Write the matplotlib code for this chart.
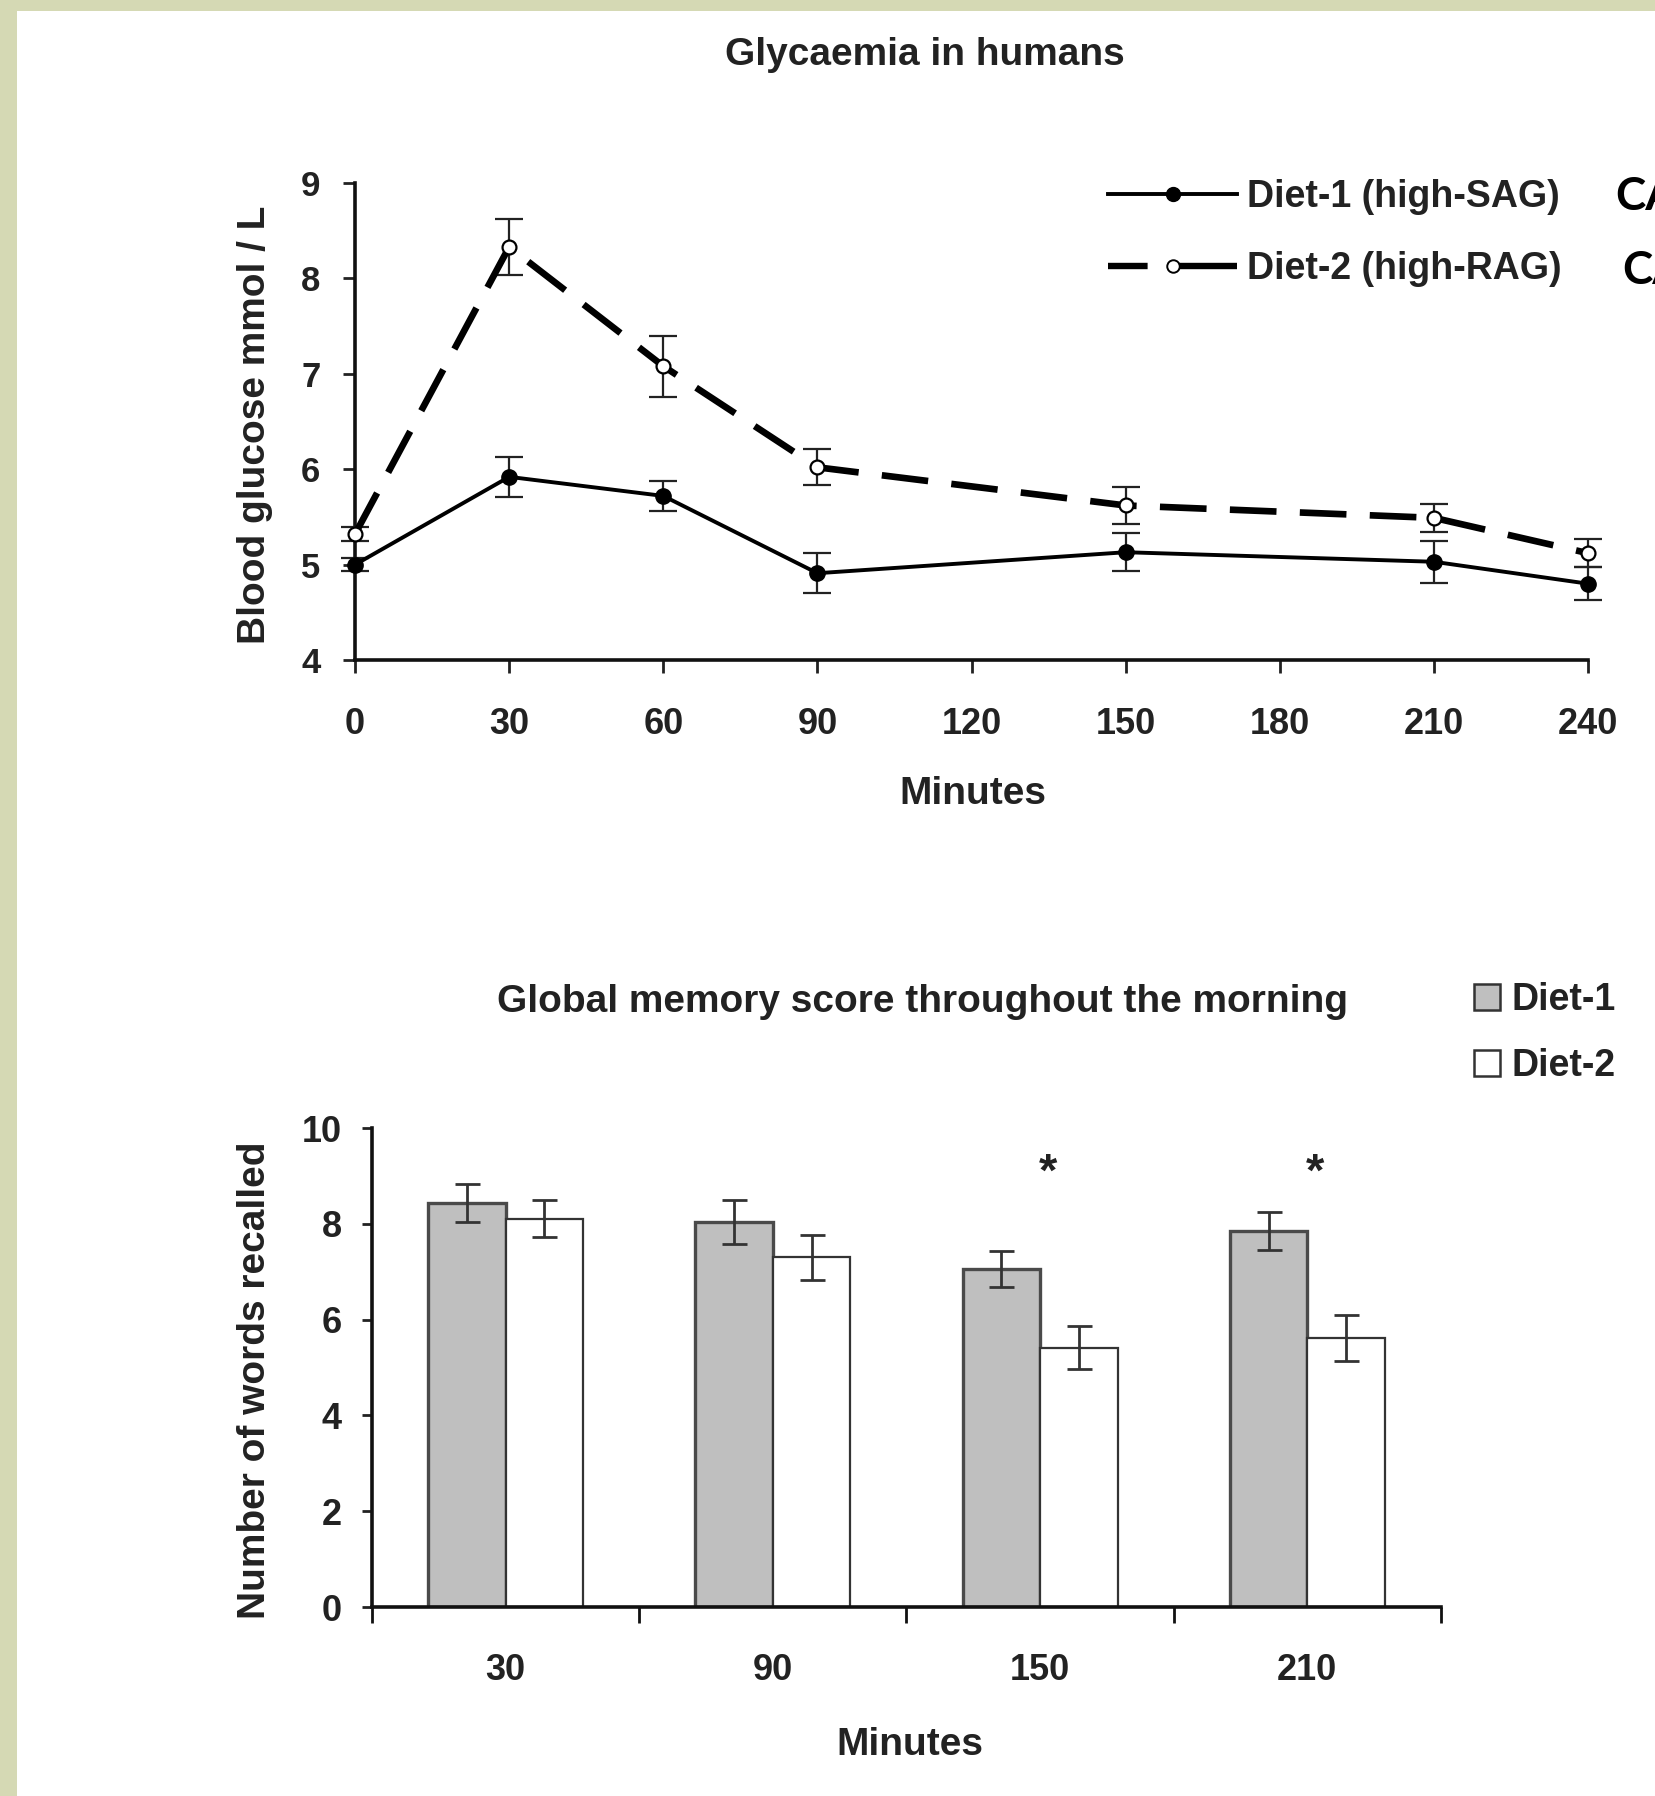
import matplotlib
matplotlib.use("Agg")
import matplotlib.pyplot as plt
import numpy as np
from matplotlib.lines import Line2D
from matplotlib.patches import Rectangle, Patch

plt.rcParams['font.family'] = ['Liberation Sans', 'DejaVu Sans']
plt.rcParams['font.weight'] = 'bold'
plt.rcParams['axes.labelweight'] = 'bold'

TXT = '#222222'

# glycaemia (top panel)
minutes = [0, 30, 60, 90, 150, 210, 240]
diet1_glucose = [5.0, 5.92, 5.72, 4.91, 5.13, 5.03, 4.8]
diet1_err = [0.07, 0.21, 0.16, 0.21, 0.2, 0.22, 0.17]
diet2_glucose = [5.32, 8.33, 7.08, 6.02, 5.62, 5.49, 5.12]
diet2_err = [0.07, 0.29, 0.32, 0.19, 0.19, 0.15, 0.15]
glucose_ticks = [4, 5, 6, 7, 8, 9]
minute_ticks = [0, 30, 60, 90, 120, 150, 180, 210, 240]

# memory score (bottom panel)
memory_minutes = ['30', '90', '150', '210']
diet1_words = [8.44, 8.04, 7.06, 7.85]
diet1_words_err = [0.4, 0.45, 0.38, 0.4]
diet2_words = [8.11, 7.3, 5.41, 5.62]
diet2_words_err = [0.38, 0.47, 0.45, 0.48]
significant = [False, False, True, True]
star_level = 9.05
words_ticks = [0, 2, 4, 6, 8, 10]

fig = plt.figure(figsize=(16.56, 17.96), dpi=100)
fig.patch.set_facecolor('#d5d9b4')
fig.add_artist(Rectangle((17 / 1656, 0), 1, 1 - 11 / 1796, transform=fig.transFigure,
                         facecolor='white', edgecolor='none', zorder=0))


def style_axes(ax):
    for s in ['top', 'right']:
        ax.spines[s].set_visible(False)
    for s in ['left', 'bottom']:
        ax.spines[s].set_linewidth(2.6)
        ax.spines[s].set_color('#111111')
    ax.patch.set_alpha(0)


# ---- top: glycaemia ----
ax1 = fig.add_axes([0.2144, 0.6325, 0.7446, 0.2656])
style_axes(ax1)

e2 = ax1.errorbar(minutes, diet2_glucose, yerr=diet2_err, color='black', lw=4.8,
                  dashes=(7, 3.5), marker='o', ms=10, mfc='white', mec='black', mew=1.6,
                  ecolor='#222222', elinewidth=1.6, capsize=10, capthick=1.6, zorder=3)
e1 = ax1.errorbar(minutes, diet1_glucose, yerr=diet1_err, color='black', lw=2.8,
                  marker='o', ms=11, mfc='black', mec='black',
                  ecolor='#222222', elinewidth=1.6, capsize=10, capthick=1.6, zorder=4)
for cont in (e1, e2):
    for art in cont.get_children():
        art.set_clip_on(False)

ax1.set_xlim(0, 240)
ax1.set_ylim(4, 9)
ax1.set_xticks(minute_ticks)
ax1.set_yticks(glucose_ticks)
ax1.tick_params(axis='x', length=9.5, width=2, pad=24, labelsize=26, colors=TXT)
ax1.tick_params(axis='y', length=9, width=2, pad=16, labelsize=25, colors=TXT)
ax1.set_xlabel('Minutes', fontsize=28, color=TXT)
ax1.xaxis.set_label_coords(0.501, -0.243)
ax1.set_ylabel('Blood glucose mmol / L', fontsize=28, color=TXT)
ax1.yaxis.set_label_coords(-0.0665, 0.493)

fig.text(0.5586, 0.9694, 'Glycaemia in humans', fontsize=28, color=TXT,
         ha='center', va='center')

h1 = Line2D([], [], color='black', lw=2.8, marker='o', ms=10, mfc='black')
h2 = Line2D([], [], color='black', lw=4.6, dashes=(6.2, 3.9, 11, 4), marker='o', ms=9,
            mfc='white', mec='black', mew=1.4)
ax1.legend([h1, h2], ['Diet-1 (high-SAG)', 'Diet-2 (high-RAG)'], loc='center left',
           bbox_to_anchor=(0.669, 0.8703), bbox_transform=fig.transFigure,
           frameon=False, fontsize=27, handlelength=3.45, handletextpad=0.25,
           labelspacing=0.95, borderpad=0, borderaxespad=0, labelcolor=TXT)

fig.text(1615 / 1656, 1 - 197 / 1796, 'CA', fontsize=33, family='Lato',
         weight='bold', color='black', ha='left', va='center')
fig.text(1622 / 1656, 1 - 271 / 1796, 'CA', fontsize=33, family='Lato',
         weight='bold', color='black', ha='left', va='center')

# ---- bottom: memory ----
ax2 = fig.add_axes([0.2246, 0.1052, 0.6455, 0.2667])
style_axes(ax2)

centers = np.arange(len(memory_minutes)) + 0.5
bw = 0.29
ax2.bar(centers - bw / 2, diet1_words, width=bw, color='#bfbfbf', edgecolor='#4a4a4a',
        linewidth=2.4, zorder=2)
ax2.bar(centers + bw / 2, diet2_words, width=bw, color='white', edgecolor='#333333',
        linewidth=1.6, zorder=2)
ax2.errorbar(centers - bw / 2, diet1_words, yerr=diet1_words_err, fmt='none',
             ecolor='#333333', elinewidth=2, capsize=9, capthick=2, zorder=3)
ax2.errorbar(centers + bw / 2, diet2_words, yerr=diet2_words_err, fmt='none',
             ecolor='#333333', elinewidth=2, capsize=9, capthick=2, zorder=3)
for c, sig in zip(centers, significant):
    if sig:
        ax2.text(c + 0.03, star_level, '*', fontsize=34, color=TXT, ha='center', va='center')

ax2.set_xlim(0, len(memory_minutes))
ax2.set_ylim(0, 10)
ax2.set_xticks(centers)
ax2.set_xticklabels(memory_minutes)
ax2.set_xticks(np.arange(len(memory_minutes) + 1), minor=True)
ax2.set_yticks(words_ticks)
ax2.tick_params(axis='x', which='major', length=0, pad=33, labelsize=26, colors=TXT)
ax2.tick_params(axis='x', which='minor', length=11.5, width=2, colors='#111111')
ax2.tick_params(axis='y', length=7.5, width=2, pad=14, labelsize=26, colors=TXT)
ax2.set_xlabel('Minutes', fontsize=28, color=TXT)
ax2.xaxis.set_label_coords(0.503, -0.25)
ax2.set_ylabel('Number of words recalled', fontsize=28, color=TXT)
ax2.yaxis.set_label_coords(-0.0926, 0.474)

fig.text(0.5568, 0.4421, 'Global memory score throughout the morning', fontsize=28,
         color=TXT, ha='center', va='center')

p1 = Patch(facecolor='#bfbfbf', edgecolor='#333333', linewidth=1.8)
p2 = Patch(facecolor='white', edgecolor='#333333', linewidth=1.8)
ax2.legend([p1, p2], ['Diet-1', 'Diet-2'], loc='center left',
           bbox_to_anchor=(0.890, 0.4248), bbox_transform=fig.transFigure,
           frameon=False, fontsize=27, handlelength=0.7, handleheight=0.7,
           handletextpad=0.3, labelspacing=0.8, borderpad=0, borderaxespad=0,
           labelcolor=TXT)

fig.savefig('out.png', dpi=100, facecolor=fig.get_facecolor())
